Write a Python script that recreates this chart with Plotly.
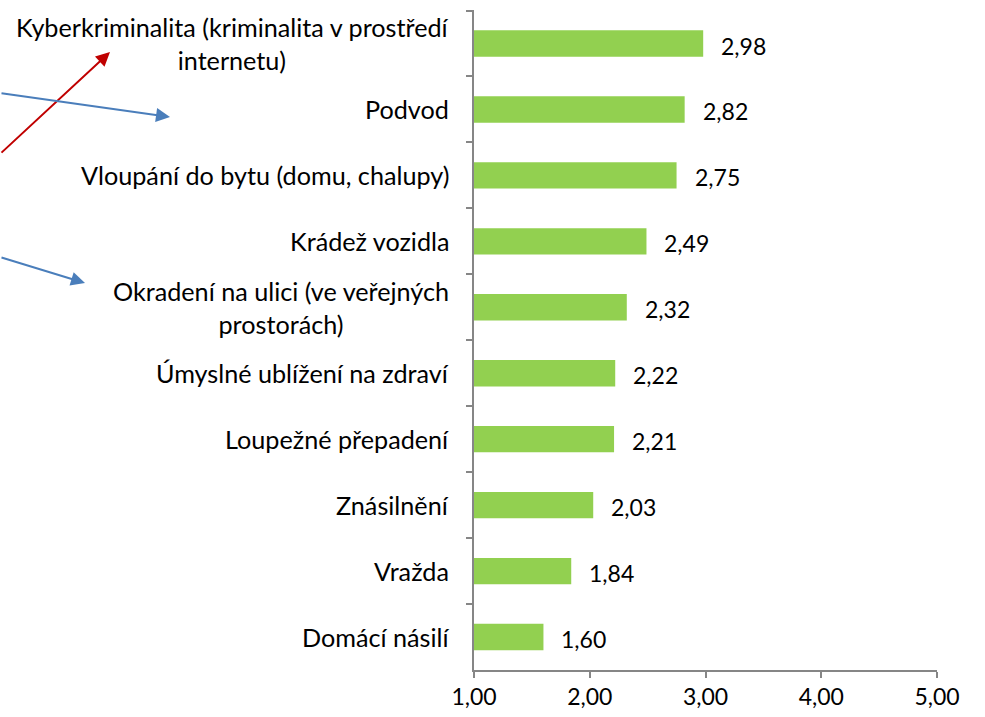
import plotly.graph_objects as go

categories = [
    "Kyberkriminalita (kriminalita v prostředí<br>internetu)",
    "Podvod",
    "Vloupání do bytu (domu, chalupy)",
    "Krádež vozidla",
    "Okradení na ulici (ve veřejných<br>prostorách)",
    "Úmyslné ublížení na zdraví",
    "Loupežné přepadení",
    "Znásilnění",
    "Vražda",
    "Domácí násilí",
]
values = [2.98, 2.82, 2.75, 2.49, 2.32, 2.22, 2.21, 2.03, 1.84, 1.60]
x_ticks = [1, 2, 3, 4, 5]

FONT = "Lato"
LABEL_SIZE = 25.2
NUM_SIZE = 23

fig = go.Figure()
fig.add_trace(go.Bar(
    y=categories, x=values, orientation="h",
    marker=dict(color="#92D050", line=dict(width=0)),
    width=0.4,
    hoverinfo="x+y",
))

annotations = []
for c in categories:
    annotations.append(dict(
        x=0, xref="paper", y=c, yref="y", text=c, showarrow=False,
        xanchor="right", xshift=-23, align="center",
        font=dict(family=FONT, size=LABEL_SIZE, color="#000000"),
    ))
for c, v in zip(categories, values):
    annotations.append(dict(
        x=v, xref="x", y=c, yref="y", text=f"{v:.2f}".replace(".", ","),
        showarrow=False, xanchor="left", xshift=16, yshift=-2,
        font=dict(family=FONT, size=NUM_SIZE, color="#000000"),
    ))

L, T, W, H = 474, 10, 463, 660
arrows = [
    dict(px=110, py=52, ax=-112, ay=102, color="#C00000"),
    dict(px=170, py=117, ax=-172, ay=-24, color="#4A7EBB"),
    dict(px=85, py=283, ax=-87, ay=-26, color="#4A7EBB"),
]
for a in arrows:
    px, py = a["px"], a["py"]
    annotations.append(dict(
        x=(px - L) / W, y=(T + H - py) / H, xref="paper", yref="paper",
        ax=a["ax"], ay=a["ay"], axref="pixel", ayref="pixel",
        showarrow=True, arrowhead=2, arrowsize=1.4, arrowwidth=2,
        arrowcolor=a["color"], text="",
    ))

fig.update_layout(
    width=985, height=717,
    margin=dict(l=L, r=985 - 937, t=T, b=717 - 670, autoexpand=False),
    paper_bgcolor="white", plot_bgcolor="white",
    separators=", ",
    showlegend=False,
    annotations=annotations,
    xaxis=dict(
        range=[1, 5], tickvals=x_ticks, tickformat=".2f",
        showgrid=False, zeroline=False,
        showline=True, linecolor="#868686", linewidth=1.5,
        ticks="outside", ticklen=6, tickcolor="#868686", tickwidth=1.5,
        tickfont=dict(family=FONT, size=NUM_SIZE, color="#000000"),
    ),
    yaxis=dict(
        autorange="reversed", showticklabels=False,
        showgrid=False, zeroline=False,
        showline=True, linecolor="#868686", linewidth=1.5,
        ticks="outside", ticklen=6, tickcolor="#868686", tickwidth=1.5,
        tickson="boundaries",
    ),
    bargap=0.6,
)
fig.write_html(
    "out.html",
    config={"displayModeBar": False},
    post_script="document.body.style.margin='0';document.body.style.overflow='hidden';",
)
